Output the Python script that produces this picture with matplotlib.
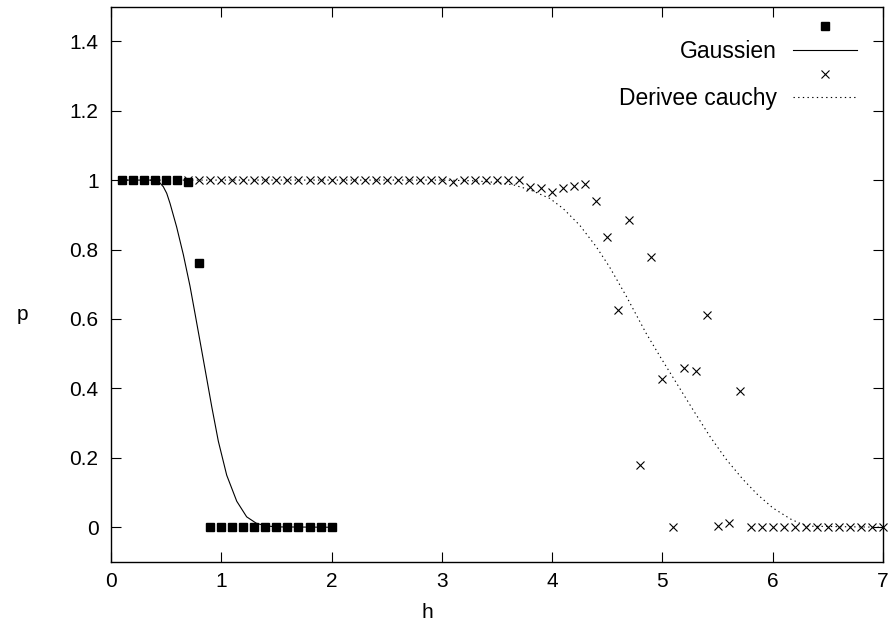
import matplotlib
matplotlib.use("Agg")
import matplotlib.pyplot as plt

plt.rcParams['font.family'] = ['Liberation Sans', 'DejaVu Sans']

# points mesures, noyau gaussien
h_gauss = [0.1, 0.2, 0.3, 0.4, 0.5, 0.6, 0.7, 0.8, 0.9, 1.0,
           1.1, 1.2, 1.3, 1.4, 1.5, 1.6, 1.7, 1.8, 1.9, 2.0]
p_gauss = [1.0, 1.0, 1.0, 1.0, 1.0, 1.0, 0.995, 0.76, 0.0, 0.0,
           0.0, 0.0, 0.0, 0.0, 0.0, 0.0, 0.0, 0.0, 0.0, 0.0]

# courbe ajustee (gaussien)
h_gauss_fit = [0.1, 0.35, 0.40, 0.44, 0.474, 0.505, 0.535, 0.595, 0.656, 0.716,
               0.762, 0.82, 0.868, 0.913, 0.973, 1.049, 1.14, 1.23, 1.32, 1.41,
               1.5, 2.0]
p_gauss_fit = [1.0, 1.0, 0.998, 0.993, 0.981, 0.962, 0.933, 0.865, 0.785, 0.695,
               0.615, 0.513, 0.428, 0.348, 0.248, 0.150, 0.075, 0.030, 0.011, 0.004,
               0.001, 0.0]

# points mesures, derivee de cauchy
h_cauchy = [0.1, 0.2, 0.3, 0.4, 0.5, 0.6, 0.7, 0.8, 0.9, 1.0,
            1.1, 1.2, 1.3, 1.4, 1.5, 1.6, 1.7, 1.8, 1.9, 2.0,
            2.1, 2.2, 2.3, 2.4, 2.5, 2.6, 2.7, 2.8, 2.9, 3.0,
            3.1, 3.2, 3.3, 3.4, 3.5, 3.6, 3.7, 3.8, 3.9, 4.0,
            4.1, 4.2, 4.3, 4.4, 4.5, 4.6, 4.7, 4.8, 4.9, 5.0,
            5.1, 5.2, 5.3, 5.4, 5.5, 5.6, 5.7, 5.8, 5.9, 6.0,
            6.1, 6.2, 6.3, 6.4, 6.5, 6.6, 6.7, 6.8, 6.9, 7.0]
p_cauchy = [1.0, 1.0, 1.0, 1.0, 1.0, 1.0, 1.0, 1.0, 1.0, 1.0,
            1.0, 1.0, 1.0, 1.0, 1.0, 1.0, 1.0, 1.0, 1.0, 1.0,
            1.0, 1.0, 1.0, 1.0, 1.0, 1.0, 1.0, 1.0, 1.0, 1.0,
            0.995, 1.0, 1.0, 1.0, 1.0, 1.0, 1.0, 0.981, 0.978, 0.966,
            0.976, 0.984, 0.99, 0.94, 0.835, 0.625, 0.885, 0.179, 0.779, 0.428,
            0.0, 0.46, 0.45, 0.61, 0.004, 0.011, 0.392, 0.0, 0.0, 0.0,
            0.0, 0.0, 0.0, 0.0, 0.0, 0.0, 0.0, 0.0, 0.0, 0.0]

# courbe ajustee (derivee cauchy)
h_cauchy_fit = [0.1, 3.0, 3.3, 3.5, 3.65, 3.8, 3.98, 4.1, 4.25, 4.4,
                4.52, 4.675, 4.85, 4.98, 5.13, 5.28, 5.43, 5.58, 5.73, 5.86,
                6.0, 6.16, 6.25, 6.33, 7.0]
p_cauchy_fit = [1.0, 1.0, 0.998, 0.993, 0.986, 0.972, 0.947, 0.918, 0.870, 0.808,
                0.750, 0.664, 0.56, 0.491, 0.414, 0.337, 0.262, 0.195, 0.138, 0.095,
                0.056, 0.024, 0.011, 0.003, 0.0]

x_ticks = [0, 1, 2, 3, 4, 5, 6, 7]
y_ticks = [0, 0.2, 0.4, 0.6, 0.8, 1.0, 1.2, 1.4]
y_tick_labels = ["0", "0.2", "0.4", "0.6", "0.8", "1", "1.2", "1.4"]

FS = 15
FS_LEG = 16.5


def main():
    fig = plt.figure(figsize=(8.91, 6.32), dpi=100)
    ax = fig.add_axes([0.1246, 0.1108, 0.8664, 0.8789])

    pts_g, = ax.plot(h_gauss, p_gauss, ls="none", marker="s", ms=6,
                     color="black", clip_on=False, zorder=3)
    fit_g, = ax.plot(h_gauss_fit, p_gauss_fit, "-", color="black", lw=0.8)
    pts_c, = ax.plot(h_cauchy, p_cauchy, ls="none", marker="x", ms=6,
                     mew=0.8, color="black", clip_on=False, zorder=3)
    fit_c, = ax.plot(h_cauchy_fit, p_cauchy_fit, color="black", lw=0.8,
                     ls=(0, (1.2, 3)))

    ax.set_xlim(0, 7)
    ax.set_ylim(-0.1, 1.5)
    ax.set_xticks(x_ticks)
    ax.set_xticklabels([str(t) for t in x_ticks])
    ax.set_yticks(y_ticks)
    ax.set_yticklabels(y_tick_labels)
    ax.tick_params(direction="in", length=7, width=0.8, top=True, right=True,
                   labelsize=FS, color="black")
    ax.tick_params(axis="x", pad=7)
    ax.tick_params(axis="y", pad=9)
    for s in ax.spines.values():
        s.set_linewidth(1.0)

    ax.set_xlabel("h", fontsize=FS, va="center")
    ax.xaxis.set_label_coords(0.41, -0.091)
    ax.set_ylabel("p", fontsize=FS, rotation=0, va="center", ha="center")
    ax.yaxis.set_label_coords(-0.115, 0.445)

    ax.legend([pts_g, fit_g, pts_c, fit_c],
              [" ", "Gaussien", " ", "Derivee cauchy"],
              loc="upper right", bbox_to_anchor=(0.966, 0.983),
              frameon=False, markerfirst=False, borderpad=0, borderaxespad=0,
              fontsize=FS_LEG, handlelength=2.8, handletextpad=0.7,
              labelspacing=0.035, numpoints=1)

    fig.savefig("out.png", dpi=100)


if __name__ == "__main__":
    main()
